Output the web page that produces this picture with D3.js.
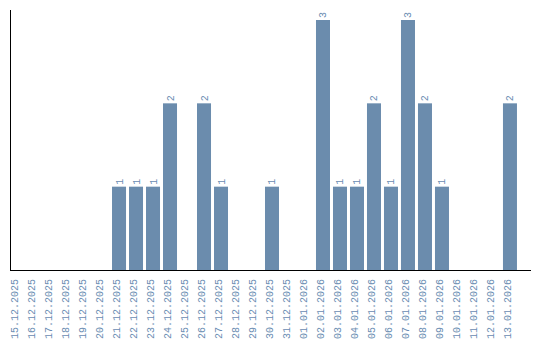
<!DOCTYPE html>
<html><head><meta charset="utf-8">
<script src="https://cdn.jsdelivr.net/npm/d3@7"></script>
<style>body{margin:0;background:#fff}svg{display:block}</style>
</head><body>
<svg id="c" width="540" height="340"></svg>
<script>
const categories = ["15.12.2025","16.12.2025","17.12.2025","18.12.2025","19.12.2025","20.12.2025","21.12.2025","22.12.2025","23.12.2025","24.12.2025","25.12.2025","26.12.2025","27.12.2025","28.12.2025","29.12.2025","30.12.2025","31.12.2025","01.01.2026","02.01.2026","03.01.2026","04.01.2026","05.01.2026","06.01.2026","07.01.2026","08.01.2026","09.01.2026","10.01.2026","11.01.2026","12.01.2026","13.01.2026"];
const values = [0,0,0,0,0,0,1,1,1,2,0,2,1,0,0,1,0,0,3,1,1,2,1,3,2,1,0,0,0,2];

const svg = d3.select("#c");
const x = d3.scaleBand().domain(categories).range([8.5, 518.5]).paddingInner(0.176).paddingOuter(0.09);
const y = d3.scaleLinear().domain([0, 3]).range([270, 20]);
const barColor = "#6b8cad", textColor = "#6a8cb2";
const font = "Liberation Mono, monospace";

svg.append("g").selectAll("rect").data(categories).join("rect")
  .attr("x", d => x(d)).attr("width", x.bandwidth())
  .attr("y", (d,i) => y(values[i])).attr("height", (d,i) => y(0) - y(values[i]))
  .attr("fill", barColor);

svg.append("g").selectAll("text").data(categories.filter((d,i)=>values[i]>0)).join("text")
  .attr("transform", d => `translate(${x(d)+x.bandwidth()/2},${y(values[categories.indexOf(d)])-2}) rotate(-90)`)
  .attr("dy","0.35em").attr("text-anchor","start")
  .attr("font-family",font).attr("font-size", 10)
  .attr("fill", textColor)
  .text(d => values[categories.indexOf(d)]);

// axes lines
svg.append("line").attr("x1",10.5).attr("x2",10.5).attr("y1",10).attr("y2",270.5).attr("stroke","#000");
svg.append("line").attr("x1",10).attr("x2",531).attr("y1",270.5).attr("y2",270.5).attr("stroke","#000");

const xAxis = d3.axisBottom(x).tickSize(0).tickPadding(0);
const g = svg.append("g").attr("transform","translate(0,270)").call(xAxis);
g.select(".domain").remove();
g.selectAll("text")
  .attr("font-family",font).attr("font-size",10)
  .attr("fill", textColor)
  .attr("text-anchor","end").attr("transform","translate(0,9) rotate(-90)")
  .attr("x",0).attr("y",0).attr("dy","0.12em");
</script>
</body></html>
